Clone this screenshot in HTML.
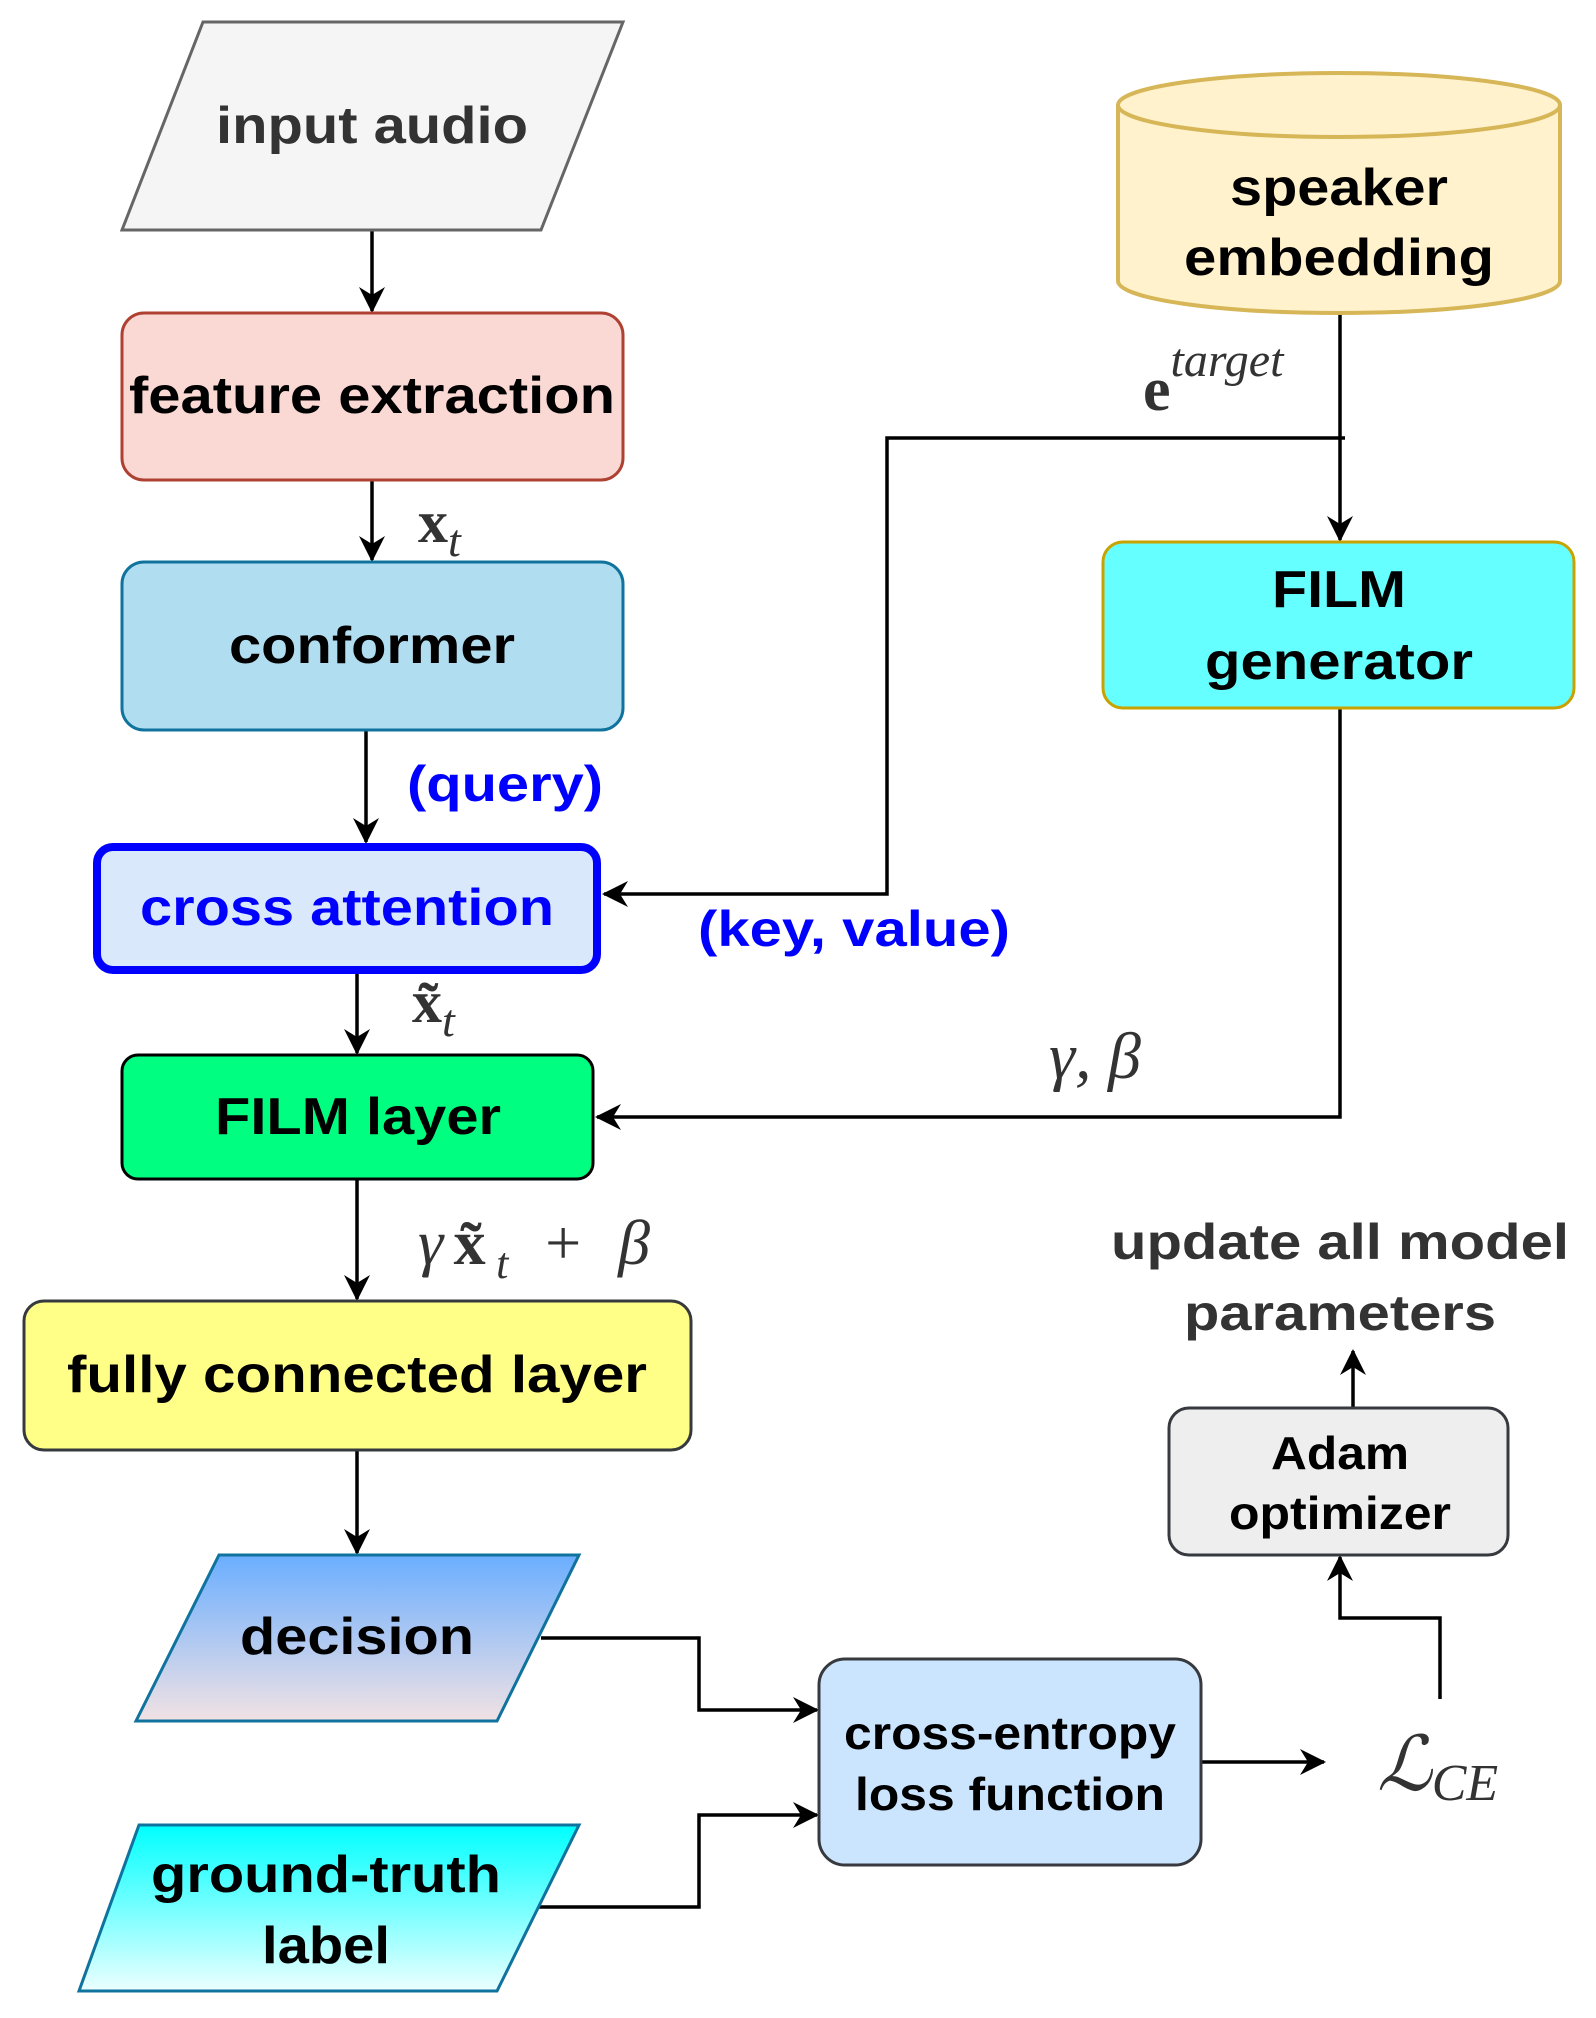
<!DOCTYPE html>
<html><head><meta charset="utf-8"><style>
html,body{margin:0;padding:0;background:#fff}
svg{display:block}
.t{font-family:"Liberation Sans",sans-serif;font-weight:bold;text-anchor:middle;dominant-baseline:central}
.m{font-family:"Liberation Serif",serif;font-style:italic;fill:#333}
</style></head><body>
<svg width="1596" height="2018" viewBox="0 0 1596 2018" xmlns="http://www.w3.org/2000/svg">
<defs>
<marker id="a" viewBox="0 0 26 26" refX="24" refY="13" markerWidth="26" markerHeight="26" markerUnits="userSpaceOnUse" orient="auto">
<path d="M0,0 L26,13 L0,26 L8,13 Z" fill="#000"/></marker>
<linearGradient id="gd" x1="0" y1="0" x2="0" y2="1"><stop offset="0" stop-color="#6aaeff"/><stop offset="1" stop-color="#f1e2e4"/></linearGradient>
<linearGradient id="gg" x1="0" y1="0" x2="0" y2="1"><stop offset="0" stop-color="#00ffff"/><stop offset="1" stop-color="#ecffff"/></linearGradient>
</defs>
<g stroke="#000" stroke-width="3.5" fill="none">
<line x1="372" y1="230" x2="372" y2="311" marker-end="url(#a)"/>
<line x1="372" y1="480" x2="372" y2="560" marker-end="url(#a)"/>
<line x1="366" y1="730" x2="366" y2="842" marker-end="url(#a)"/>
<line x1="357" y1="973" x2="357" y2="1053" marker-end="url(#a)"/>
<line x1="357" y1="1179" x2="357" y2="1299" marker-end="url(#a)"/>
<line x1="357" y1="1450" x2="357" y2="1553" marker-end="url(#a)"/>
<line x1="1340" y1="313" x2="1340" y2="540" marker-end="url(#a)"/>
<polyline points="1345,438 887,438 887,894 604,894" marker-end="url(#a)"/>
<polyline points="1340,708 1340,1117 597,1117" marker-end="url(#a)"/>
<polyline points="541,1638 699,1638 699,1710 817,1710" marker-end="url(#a)"/>
<polyline points="535,1907 699,1907 699,1815 817,1815" marker-end="url(#a)"/>
<line x1="1201" y1="1762" x2="1324" y2="1762" marker-end="url(#a)"/>
<polyline points="1440,1699 1440,1618 1340,1618 1340,1557" marker-end="url(#a)"/>
<line x1="1353" y1="1408" x2="1353" y2="1351" marker-end="url(#a)"/>
</g>
<polygon points="203,22 623,22 541,230 122,230" fill="#f5f5f5" stroke="#666" stroke-width="3"/>
<text class="t" x="372" y="126" font-size="52" fill="#333" textLength="312" lengthAdjust="spacingAndGlyphs">input audio</text>
<rect x="122" y="313" width="501" height="167" rx="22" fill="#fad9d5" stroke="#ae4132" stroke-width="3"/>
<text class="t" x="372" y="396" font-size="52" textLength="486" lengthAdjust="spacingAndGlyphs">feature extraction</text>
<rect x="122" y="562" width="501" height="168" rx="22" fill="#b1ddf0" stroke="#10739e" stroke-width="3"/>
<text class="t" x="372" y="646" font-size="52" textLength="286" lengthAdjust="spacingAndGlyphs">conformer</text>
<rect x="97" y="847" width="500" height="123" rx="16" fill="#dae8fc" stroke="#0000ff" stroke-width="8"/>
<text class="t" x="347" y="908" font-size="52" fill="#0000ff" textLength="414" lengthAdjust="spacingAndGlyphs">cross attention</text>
<rect x="122" y="1055" width="471" height="124" rx="16" fill="#00ff80" stroke="#000" stroke-width="3"/>
<text class="t" x="358" y="1117" font-size="52" textLength="286" lengthAdjust="spacingAndGlyphs">FILM layer</text>
<rect x="24" y="1301" width="667" height="149" rx="20" fill="#ffff88" stroke="#36393d" stroke-width="3"/>
<text class="t" x="357" y="1375" font-size="52" textLength="580" lengthAdjust="spacingAndGlyphs">fully connected layer</text>
<polygon points="219,1555 579,1555 497,1721 136,1721" fill="url(#gd)" stroke="#10739e" stroke-width="3"/>
<text class="t" x="357" y="1637" font-size="52" textLength="234" lengthAdjust="spacingAndGlyphs">decision</text>
<polygon points="139,1825 579,1825 497,1991 79,1991" fill="url(#gg)" stroke="#10739e" stroke-width="3"/>
<text class="t" x="326" y="1875" font-size="52" textLength="350" lengthAdjust="spacingAndGlyphs">ground-truth</text>
<text class="t" x="326" y="1946" font-size="52" textLength="128" lengthAdjust="spacingAndGlyphs">label</text>
<rect x="819" y="1659" width="382" height="206" rx="26" fill="#cce5ff" stroke="#36393d" stroke-width="3"/>
<text class="t" x="1010" y="1733" font-size="46" textLength="332" lengthAdjust="spacingAndGlyphs">cross-entropy</text>
<text class="t" x="1010" y="1794" font-size="46" textLength="310" lengthAdjust="spacingAndGlyphs">loss function</text>
<rect x="1169" y="1408" width="339" height="147" rx="20" fill="#eeeeee" stroke="#36393d" stroke-width="3"/>
<text class="t" x="1340" y="1453" font-size="46" textLength="138" lengthAdjust="spacingAndGlyphs">Adam</text>
<text class="t" x="1340" y="1513" font-size="46" textLength="222" lengthAdjust="spacingAndGlyphs">optimizer</text>
<text class="t" x="1340" y="1242" font-size="50" fill="#333" textLength="458" lengthAdjust="spacingAndGlyphs">update all model</text>
<text class="t" x="1340" y="1313" font-size="50" fill="#333" textLength="312" lengthAdjust="spacingAndGlyphs">parameters</text>
<path d="M1118,105 A221,32 0 0 1 1560,105 L1560,281 A221,32 0 0 1 1118,281 Z" fill="#fff2cc" stroke="#d6b656" stroke-width="4"/>
<path d="M1118,105 A221,32 0 0 0 1560,105" fill="none" stroke="#d6b656" stroke-width="4"/>
<text class="t" x="1339" y="188" font-size="52" textLength="218" lengthAdjust="spacingAndGlyphs">speaker</text>
<text class="t" x="1339" y="258" font-size="52" textLength="310" lengthAdjust="spacingAndGlyphs">embedding</text>
<rect x="1103" y="542" width="471" height="166" rx="20" fill="#66ffff" stroke="#c8a300" stroke-width="3"/>
<text class="t" x="1339" y="590" font-size="52" textLength="134" lengthAdjust="spacingAndGlyphs">FILM</text>
<text class="t" x="1339" y="662" font-size="52" textLength="268" lengthAdjust="spacingAndGlyphs">generator</text>
<text class="t" x="505" y="784" font-size="50" fill="#0000ff" textLength="196" lengthAdjust="spacingAndGlyphs">(query)</text>
<text class="t" x="854" y="929" font-size="50" fill="#0000ff" textLength="312" lengthAdjust="spacingAndGlyphs">(key, value)</text>
<text x="418" y="542" font-family="Liberation Serif,serif" font-weight="bold" font-size="60" fill="#333">x<tspan class="m" font-weight="normal" font-size="46" dy="14">t</tspan></text>
<text x="412" y="1022" font-family="Liberation Serif,serif" font-weight="bold" font-size="60" fill="#333">x̃<tspan class="m" font-weight="normal" font-size="46" dy="14">t</tspan></text>
<text class="m" x="1049" y="1078" font-size="66">γ, β</text>
<text class="m" x="418" y="1264" font-size="64" textLength="232" lengthAdjust="spacing">γ<tspan font-family="Liberation Serif,serif" font-style="normal" font-weight="bold">x̃</tspan><tspan font-size="44" dy="14">t</tspan><tspan dy="-14" font-style="normal"> + </tspan>β</text>
<text x="1143" y="410" font-family="Liberation Serif,serif" font-weight="bold" font-size="62" fill="#333">e<tspan class="m" font-weight="normal" font-size="48" dy="-34">target</tspan></text>
<text class="m" x="1377" y="1790" font-size="76" fill="#000">ℒ<tspan font-size="52" dy="10">CE</tspan></text>
</svg>
</body></html>
